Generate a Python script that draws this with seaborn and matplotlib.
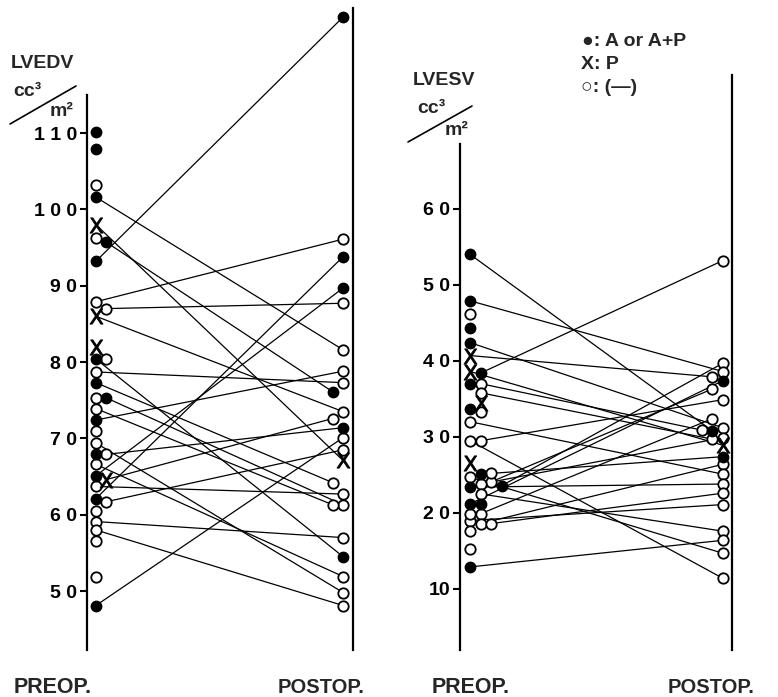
import numpy as np
import pandas as pd
import matplotlib
matplotlib.use("Agg")
import matplotlib.pyplot as plt
import seaborn as sns
from matplotlib.lines import Line2D

# ---- LVEDV (cc/m2): paired pre/post values, marker kind ('A' filled, 'P' X, '-' open)
edv_pre = [93.2, 101.6, 98.0, 95.7, 87.9, 87.0, 86.0, 80.4, 78.7, 77.3, 75.3, 73.9,
           72.4, 69.4, 67.9, 66.6, 65.1, 64.6, 63.7, 62.1, 61.7, 59.1, 58.0, 48.1]
edv_post = [125.2, 81.6, 67.1, 76.1, 96.1, 87.7, 73.5, 54.5, 77.3, 64.2, 61.3, 61.3,
            78.8, 49.8, 71.4, 51.9, 89.7, 72.6, 62.7, 93.8, 68.5, 57.0, 48.1, 70.1]
edv_pre_kind = ["A", "A", "P", "A", "-", "-", "P", "A", "-", "A", "A", "-",
                "A", "-", "-", "-", "A", "P", "-", "A", "-", "-", "-", "A"]
edv_post_kind = ["A", "-", "P", "A", "-", "-", "-", "A", "-", "-", "-", "-",
                 "-", "-", "A", "-", "A", "-", "-", "A", "-", "-", "-", "-"]
edv_pre_col = [0, 0, 0, 1, 0, 1, 0, 0, 0, 0, 1, 0, 0, 0, 1, 0, 0, 1, 0, 0, 1, 0, 0, 0]
edv_post_col = [0, 0, 0, 1, 0, 0, 0, 0, 0, 1, 0, 1, 0, 0, 0, 0, 0, 1, 0, 0, 0, 0, 0, 0]
# pre-op values without a follow-up line
edv_lone = [110.1, 107.9, 103.2, 96.3, 82.0, 80.4, 75.3, 71.0, 67.9, 60.5, 56.5, 51.8]
edv_lone_kind = ["A", "A", "-", "-", "P", "-", "-", "-", "A", "-", "-", "-"]
edv_lone_col = [0, 0, 0, 0, 0, 1, 0, 0, 0, 0, 0, 0]

# ---- LVESV (cc/m2)
esv_pre = [38.4, 23.6, 47.9, 40.7, 21.2, 24.1, 29.5, 19.9, 37.0, 54.0, 42.4, 35.8,
           23.8, 38.6, 25.1, 18.6, 32.0, 23.4, 18.6, 19.0, 22.5, 12.9, 24.7, 29.5]
esv_post = [53.2, 39.7, 38.6, 37.9, 37.4, 36.3, 34.9, 32.4, 30.9, 30.8, 31.2, 29.7,
            29.9, 28.9, 27.4, 26.4, 25.1, 23.8, 22.6, 21.1, 17.6, 16.4, 14.7, 11.4]
esv_pre_kind = ["A", "A", "A", "P", "A", "-", "-", "-", "-", "A", "A", "-",
                "-", "P", "A", "-", "-", "A", "-", "-", "-", "A", "-", "-"]
esv_post_kind = ["-", "-", "-", "-", "A", "-", "-", "-", "-", "A", "-", "-",
                 "-", "P", "A", "-", "-", "-", "-", "-", "-", "-", "-", "-"]
esv_pre_col = [1, 3, 0, 0, 0, 2, 1, 1, 1, 0, 0, 1, 1, 0, 1, 1, 0, 0, 2, 0, 1, 0, 0, 0]
esv_post_col = [0, 0, 0, 1, 0, 1, 0, 1, 2, 1, 0, 1, 0, 0, 0, 0, 0, 0, 0, 0, 0, 0, 0, 0]
esv_lone = [46.1, 44.3, 37.0, 34.5, 33.7, 33.3, 26.6, 25.3, 21.2, 19.9, 17.6, 15.3]
esv_lone_kind = ["-", "A", "A", "P", "A", "-", "P", "-", "A", "-", "-", "-"]
esv_lone_col = [0, 0, 0, 1, 0, 1, 0, 2, 1, 0, 0, 0]

STEP = 0.042  # horizontal stacking of crowded markers


def build(pre, post, pk, qk, pc, qc, lone, lk, lc):
    rows, pts = [], []
    for i in range(len(pre)):
        x0, x1 = 0 + pc[i] * STEP, 1 - qc[i] * STEP
        rows += [(i, x0, pre[i]), (i, x1, post[i])]
        pts += [(x0, pre[i], pk[i]), (x1, post[i], qk[i])]
    for v, k, c in zip(lone, lk, lc):
        pts.append((c * STEP, v, k))
    lines = pd.DataFrame(rows, columns=["pair", "x", "value"])
    points = pd.DataFrame(pts, columns=["x", "value", "kind"])
    return lines, points


sns.set_theme(style="white")
plt.rcParams["font.family"] = ["Liberation Sans", "DejaVu Sans"]

fig = plt.figure(figsize=(7.78, 6.97), dpi=100)
ax1 = fig.add_axes([0.1118, 0.0674, 0.3419, 0.9211])
ax2 = fig.add_axes([0.5913, 0.0674, 0.3496, 0.8250])

panels = [
    (ax1, build(edv_pre, edv_post, edv_pre_kind, edv_post_kind, edv_pre_col,
                edv_post_col, edv_lone, edv_lone_kind, edv_lone_col),
     (42.27, 126.38), 115.0, [50, 60, 70, 80, 90, 100, 110],
     ["5 0", "6 0", "7 0", "8 0", "9 0", "1 0 0", "1 1 0"], (-0.036, 1.040)),
    (ax2, build(esv_pre, esv_post, esv_pre_kind, esv_post_kind, esv_pre_col,
                esv_post_col, esv_lone, esv_lone_kind, esv_lone_col),
     (1.97, 77.6), 68.5, [10, 20, 30, 40, 50, 60],
     ["10", "2 0", "3 0", "4 0", "5 0", "6 0"], (-0.040, 1.036)),
]

for ax, (lines, points), ylim, spine_top, ticks, labels, xlim in panels:
    sns.lineplot(data=lines, x="x", y="value", units="pair", estimator=None,
                 sort=False, color="black", lw=0.9, legend=False, ax=ax)
    sns.scatterplot(data=points[points.kind == "-"], x="x", y="value", s=56,
                    color="white", edgecolor="black", linewidth=1.3, zorder=4, ax=ax)
    sns.scatterplot(data=points[points.kind == "A"], x="x", y="value", s=56,
                    color="black", edgecolor="black", linewidth=1, zorder=4, ax=ax)
    sns.scatterplot(data=points[points.kind == "P"], x="x", y="value", s=120,
                    marker=r"$\mathsf{X}$", color="black", edgecolor="black",
                    linewidth=0.6, zorder=4, ax=ax)
    ax.set_xlim(*xlim)
    ax.set_ylim(*ylim)
    ax.set(xlabel="", ylabel="", xticks=[])
    ax.set_yticks(ticks)
    ax.set_yticklabels(labels, fontweight="bold", fontsize=14)
    ax.tick_params(axis="y", left=True, direction="out", length=5, width=1.5,
                   pad=2, colors="black")
    ax.set_facecolor("white")
    ax.grid(False)
    for side in ["top", "bottom"]:
        ax.spines[side].set_visible(False)
    for side in ["left", "right"]:
        ax.spines[side].set_color("black")
        ax.spines[side].set_linewidth(1.6)
    ax.spines["left"].set_bounds(ylim[0], spine_top)

W, H = 778, 697


def ftext(px, py, s, size, **kw):
    fig.text(px / W, 1 - py / H, s, fontsize=size, fontweight="bold",
             va="baseline", ha="left", **kw)


def fline(x0, y0, x1, y1):
    fig.add_artist(Line2D([x0 / W, x1 / W], [1 - y0 / H, 1 - y1 / H],
                          transform=fig.transFigure, color="black", lw=1.2))


# axis titles and units
ftext(11, 68, "LVEDV", 14)
ftext(13, 96, "cc³", 14)
ftext(50, 116, "m²", 14)
fline(10, 124, 76, 86)
ftext(413, 85, "LVESV", 14)
ftext(417, 113, "cc³", 14)
ftext(445, 135, "m²", 14)
fline(408, 142, 472, 106)

# period labels
ftext(14, 693, "PREOP.", 15.5)
ftext(278, 693, "POSTOP.", 14.5)
ftext(432, 693, "PREOP.", 15.5)
ftext(668, 693, "POSTOP.", 14.5)

# key
ftext(582, 46, "●: A or A+P", 14)
ftext(581, 69, "X: P", 14)
ftext(581, 92, "○: (—)", 14)

fig.savefig("out.png", dpi=100, facecolor="white")
